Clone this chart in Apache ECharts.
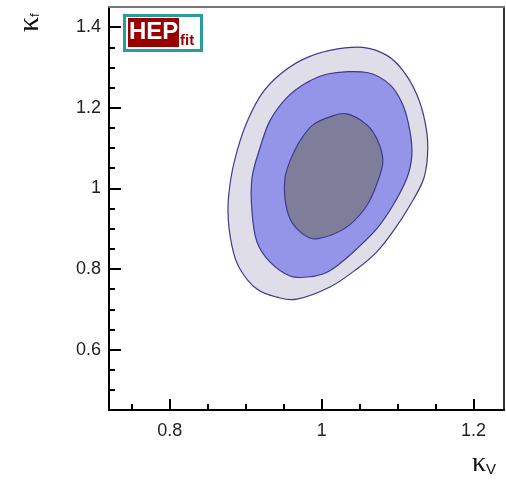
<!DOCTYPE html>
<html>
<head>
<meta charset="utf-8">
<script src="https://cdn.jsdelivr.net/npm/echarts@6/dist/echarts.min.js"></script>
<style>
  html, body { margin: 0; padding: 0; background: #fff; }
  #chart { width: 506px; height: 481px; }
</style>
</head>
<body>
<div id="chart"></div>
<script>
// contours (kappa_V, kappa_f), outer -> inner
const outerContour = [
  [1.0108, 1.3425], [1.0542, 1.35], [1.0858, 1.33], [1.1068, 1.2925], [1.1253, 1.2325],
  [1.1358, 1.1675], [1.1397, 1.1], [1.1345, 1.025], [1.1161, 0.9575], [1.0937, 0.8925],
  [1.0726, 0.8425], [1.0463, 0.8], [1.0108, 0.755], [0.9674, 0.725], [0.9411, 0.73],
  [0.9147, 0.75], [0.8924, 0.8], [0.8818, 0.8575], [0.8766, 0.9425], [0.8805, 1.025],
  [0.8897, 1.1], [0.9029, 1.17], [0.9213, 1.235], [0.945, 1.2825], [0.9753, 1.32]
]
const middleContour = [
  [1.0108, 1.285], [1.0595, 1.2875], [1.0897, 1.2575], [1.1068, 1.2075], [1.1161, 1.1425],
  [1.1187, 1.0825], [1.1121, 1.025], [1.0937, 0.9575], [1.0726, 0.9], [1.0463, 0.85],
  [1.02, 0.8075], [1.0016, 0.7875], [0.9805, 0.78], [0.9582, 0.7825], [0.9318, 0.8175],
  [0.9147, 0.8675], [0.9082, 0.9425], [0.9082, 1.025], [0.9187, 1.1], [0.9318, 1.1675],
  [0.9542, 1.225], [0.9805, 1.2625]
]
const innerContour = [
  [1.0108, 1.1775], [1.0332, 1.185], [1.0595, 1.1575], [1.0739, 1.1175], [1.0805, 1.0675],
  [1.0739, 1.0175], [1.0595, 0.9575], [1.0371, 0.91], [1.0134, 0.885], [0.9884, 0.875],
  [0.9713, 0.8925], [0.9582, 0.925], [0.9516, 0.975], [0.9516, 1.025], [0.9582, 1.0675],
  [0.9713, 1.1175], [0.9884, 1.1575]
]
const contours = [outerContour, middleContour, innerContour]
const contourColors = ['#dedde8', '#9494e8', '#7e7e9b']

const xMajorTicks = [0.8, 1.0, 1.2]
const xMinorTicks = [0.75, 0.85, 0.9, 0.95, 1.05, 1.1, 1.15]
const yMajorTicks = [0.6, 0.8, 1.0, 1.2, 1.4]
const yMinorTicks = [0.45, 0.5, 0.55, 0.65, 0.7, 0.75, 0.85, 0.9, 0.95, 1.05, 1.1, 1.15, 1.25, 1.3, 1.35]

const xRange = [0.72, 1.24]
const yRange = [0.45, 1.45]

const chart = echarts.init(document.getElementById('chart'))

const labelFont = { fontFamily: 'Liberation Sans, Arial, sans-serif', fontSize: 18, color: '#222' }

// closed catmull-rom curve through screen points
function closedCurve(pts) {
  const n = pts.length
  let d = 'M' + pts[0][0] + ' ' + pts[0][1]
  for (let i = 0; i < n; i++) {
    const p0 = pts[(i - 1 + n) % n], p1 = pts[i], p2 = pts[(i + 1) % n], p3 = pts[(i + 2) % n]
    const c1 = [p1[0] + (p2[0] - p0[0]) / 6, p1[1] + (p2[1] - p0[1]) / 6]
    const c2 = [p2[0] - (p3[0] - p1[0]) / 6, p2[1] - (p3[1] - p1[1]) / 6]
    d += 'C' + c1[0] + ' ' + c1[1] + ' ' + c2[0] + ' ' + c2[1] + ' ' + p2[0] + ' ' + p2[1]
  }
  return d + 'Z'
}

const option = {
  animation: false,
  grid: { left: 109, right: 2, top: 7, bottom: 71 },
  xAxis: [
    {
      type: 'value', min: xRange[0], max: xRange[1], position: 'bottom',
      splitLine: { show: false },
      axisLine: { lineStyle: { color: '#000', width: 2 } },
      axisTick: { inside: true, length: 11, customValues: xMajorTicks, lineStyle: { color: '#000', width: 2 } },
      axisLabel: Object.assign({ customValues: xMajorTicks, margin: 12 }, labelFont)
    },
    {
      type: 'value', min: xRange[0], max: xRange[1], position: 'bottom',
      splitLine: { show: false },
      axisLine: { show: false },
      axisTick: { inside: true, length: 6, customValues: xMinorTicks, lineStyle: { color: '#000', width: 2 } },
      axisLabel: { show: false }
    },
    {
      type: 'value', min: xRange[0], max: xRange[1], position: 'top',
      splitLine: { show: false },
      axisLine: { lineStyle: { color: '#777', width: 2 } },
      axisTick: { show: false },
      axisLabel: { show: false }
    }
  ],
  yAxis: [
    {
      type: 'value', min: yRange[0], max: yRange[1], position: 'left',
      splitLine: { show: false },
      axisLine: { lineStyle: { color: '#000', width: 2 } },
      axisTick: { inside: true, length: 12, customValues: yMajorTicks, lineStyle: { color: '#000', width: 2 } },
      axisLabel: Object.assign({ customValues: yMajorTicks, margin: 8 }, labelFont)
    },
    {
      type: 'value', min: yRange[0], max: yRange[1], position: 'left',
      splitLine: { show: false },
      axisLine: { show: false },
      axisTick: { inside: true, length: 6, customValues: yMinorTicks, lineStyle: { color: '#000', width: 2 } },
      axisLabel: { show: false }
    },
    {
      type: 'value', min: yRange[0], max: yRange[1], position: 'right',
      splitLine: { show: false },
      axisLine: { lineStyle: { color: '#333', width: 2 } },
      axisTick: { show: false },
      axisLabel: { show: false }
    }
  ],
  series: [
    {
      type: 'custom',
      xAxisIndex: 0,
      yAxisIndex: 0,
      data: contours.map((c, i) => [c[0][0], c[0][1], i]),
      renderItem: function (params, api) {
        const idx = api.value(2)
        const pts = contours[idx].map(p => api.coord(p))
        return {
          type: 'path',
          shape: { pathData: closedCurve(pts) },
          style: { fill: contourColors[idx], stroke: '#3d3a8e', lineWidth: 1.2 }
        }
      }
    }
  ],
  graphic: [
    // axis titles
    {
      type: 'text', left: 472, top: 450,
      style: {
        text: '{k|κ}{s|V}',
        rich: {
          k: { fontFamily: 'Liberation Serif, serif', fontSize: 28, fill: '#111' },
          s: { fontFamily: 'Liberation Sans, sans-serif', fontSize: 15, fill: '#111', padding: [12, 0, 0, 0] }
        }
      }
    },
    {
      type: 'text', x: 15, y: 32, rotation: Math.PI / 2,
      style: {
        text: '{k|κ}{s|f}',
        rich: {
          k: { fontFamily: 'Liberation Serif, serif', fontSize: 30, fill: '#111' },
          s: { fontFamily: 'Liberation Sans, sans-serif', fontSize: 13, fill: '#111', padding: [10, 0, 0, 0] }
        }
      }
    },
    // HEPfit logo
    {
      type: 'group', left: 123, top: 14,
      children: [
        { type: 'rect', shape: { x: 1.5, y: 1.5, width: 77, height: 35 }, style: { fill: '#fff', stroke: '#2a9c9a', lineWidth: 3 } },
        { type: 'rect', shape: { x: 5, y: 4, width: 51, height: 29 }, style: { fill: '#990000' } },
        { type: 'text', x: 6, y: 6, style: { text: 'HEP', font: 'bold 24px Liberation Sans, Arial, sans-serif', fill: '#fff' } },
        { type: 'text', x: 57, y: 19, style: { text: 'fit', font: 'bold 15px Liberation Sans, Arial, sans-serif', fill: '#990000' } }
      ]
    }
  ]
}

chart.setOption(option)
</script>
</body>
</html>
